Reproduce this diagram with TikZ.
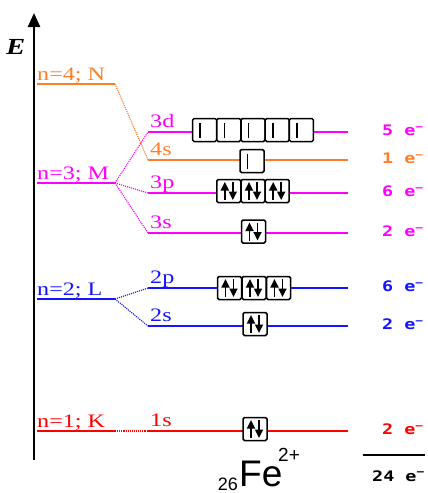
\documentclass[tikz,border=0pt]{standalone}
\usepackage{graphicx}
\usepackage{fontspec}
\setmainfont{Liberation Serif}
\setsansfont{Liberation Sans}
\setmonofont{DejaVu Sans Mono}
\usepackage{tikz}
\usetikzlibrary{arrows.meta}
\definecolor{cK}{RGB}{255,0,0}
\definecolor{cL}{RGB}{20,20,255}
\definecolor{cM}{RGB}{255,0,255}
\definecolor{cN}{RGB}{255,125,40}
\newcommand{\wide}[1]{\scalebox{1.27}[1]{#1}}

\begin{document}
\begin{tikzpicture}[x=1pt, y=-1pt,
  lvl/.style={line width=1.8pt},
  link/.style={densely dotted, line width=1.1pt},
  lab/.style={anchor=base west, inner sep=0pt, font=\fontsize{19}{19}\selectfont},
  cnt/.style={anchor=base west, inner sep=0pt, font=\ttfamily\bfseries\fontsize{14.5}{14.5}\selectfont},
  orb/.style={draw, line width=1.5pt, rounded corners=1.5pt, fill=white,
              minimum width=24pt, minimum height=23pt, inner sep=0pt},
  spin/.style={-{Triangle[length=8.5pt,width=8pt]}, line width=1.7pt},
  bar/.style={line width=1.6pt}
]
\useasboundingbox (0,0) rectangle (428,493);

% energy axis
\coordinate (ax0) at (34,460);
\coordinate (ax1) at (34,13);
\draw[line width=2.4pt, -{Triangle[length=14pt,width=12pt]}] (ax0) -- (ax1);
\node[font=\bfseries\itshape\fontsize{23}{23}\selectfont, anchor=base west, inner sep=0pt] (E) at (6,54) {\scalebox{1.25}[1]{E}};

% shells
\foreach \sh/\y/\col/\txt in {N/84/cN/{n=4; N}, M/183/cM/{n=3; M}, L/299/cL/{n=2; L}, K/431/cK/{n=1; K}}{
  \coordinate (\sh-l) at (37,\y);
  \coordinate (\sh-r) at (115,\y);
  \draw[lvl, \col] (\sh-l) -- (\sh-r);
  \node[lab, \col] (\sh-lab) at (37,\y-4) {\wide{\txt}};
}

% subshells
\foreach \sub/\y/\col/\txt/\num in {d3/132/cM/3d/5, s4/160/cN/4s/1, p3/193/cM/3p/6,
    s3/233/cM/3s/2, p2/288/cL/2p/6, s2/326/cL/2s/2, s1/431/cK/1s/2}{
  \coordinate (\sub-l) at (148,\y);
  \coordinate (\sub-r) at (348,\y);
  \draw[lvl, \col] (\sub-l) -- (\sub-r);
  \node[lab, \col] (\sub-lab) at (150,\y-4.5) {\wide{\txt}};
  \node[cnt, \col] (\sub-cnt) at (382,\y+3.5) {\wide{\num~e\textsuperscript{−}}};
}

% splitting
\foreach \a/\b/\col in {N/s4/cN, M/d3/cM, M/p3/cM, M/s3/cM, L/p2/cL, L/s2/cL, K/s1/cK}
  \draw[link, \col] (\a-r) -- (\b-l);

% orbital boxes
\foreach \i in {1,...,5}
  \node[orb] (d3b\i) at ({253+(\i-3)*24.2},130) {};
\node[orb] (s4b) at (252,161) {};
\foreach \i in {1,2,3}{
  \node[orb] (p3b\i) at ({253+(\i-2)*24.2},191) {};
  \node[orb] (p2b\i) at ({254+(\i-2)*24.5},288) {};
}
\node[orb] (s3b) at (253.5,231.5) {};
\node[orb] (s2b) at (255,324) {};
\node[orb] (s1b) at (255,429) {};

% unpaired electrons
\foreach \b in {d3b1,d3b2,d3b3,d3b4,d3b5,s4b}
  \draw[bar] ([xshift=-4.5pt,yshift=-7.5pt]\b.center) -- ([xshift=-4.5pt,yshift=7.5pt]\b.center);

% paired electrons
\foreach \b in {p3b1,p3b2,p3b3,s3b,p2b1,p2b2,p2b3,s2b,s1b}{
  \draw[spin] ([xshift=-4pt,yshift=-9pt]\b.center) -- ([xshift=-4pt,yshift=9pt]\b.center);
  \draw[spin] ([xshift=4pt,yshift=9pt]\b.center) -- ([xshift=4pt,yshift=-9pt]\b.center);
}

% ion symbol
\node[font=\sffamily\fontsize{37}{37}\selectfont, anchor=base west, inner sep=0pt] (Fe) at (239,486) {Fe};
\node[font=\sffamily\fontsize{18}{18}\selectfont, anchor=base east, inner sep=0pt] (Z) at (238,490) {26};
\node[font=\sffamily\fontsize{19}{19}\selectfont, anchor=base west, inner sep=0pt] (chg) at (278,461) {2+};

% total
\coordinate (sum-l) at (363,455);
\coordinate (sum-r) at (425,455);
\draw[line width=1.2pt] (sum-l) -- (sum-r);
\node[cnt] (total) at (372,481) {\wide{24~e\textsuperscript{−}}};
\end{tikzpicture}
\end{document}
